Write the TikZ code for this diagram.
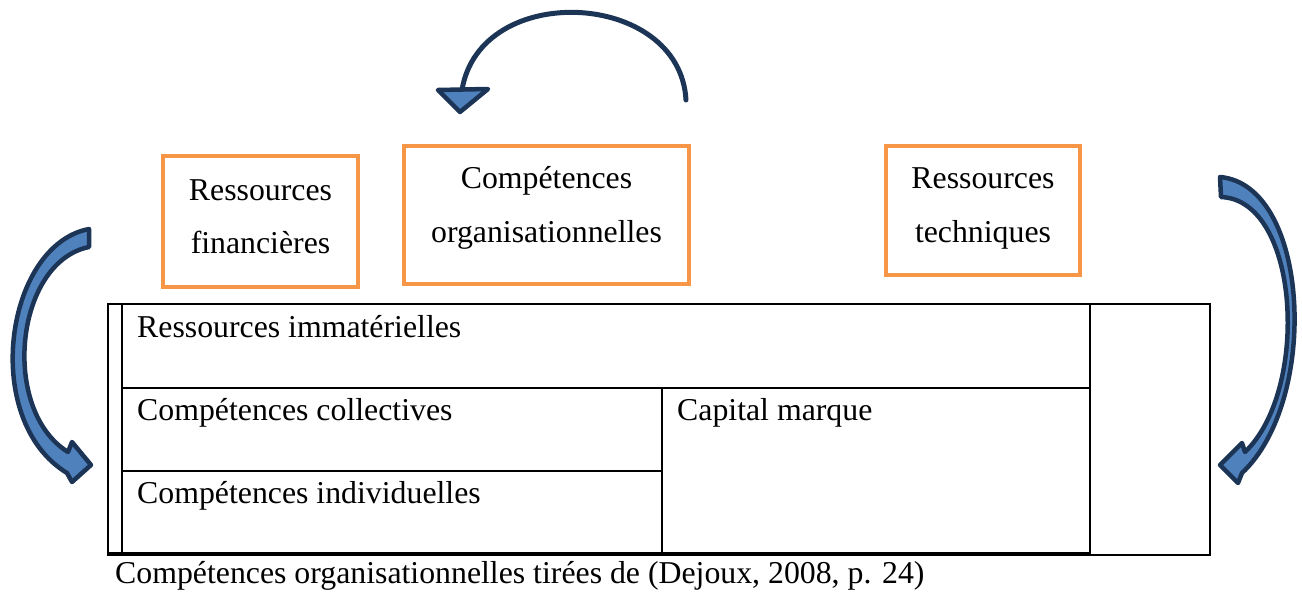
\documentclass[tikz,border=0pt]{standalone}
\usepackage{fontspec}
\setmainfont{Liberation Serif}
\definecolor{boxorange}{HTML}{F79646}
\definecolor{arrowfill}{HTML}{4F81BD}
\definecolor{arrowline}{HTML}{1C3556}
\begin{document}
\begin{tikzpicture}[x=1pt,y=-1pt,
  resbox/.style={draw=boxorange, line width=4pt, inner sep=0pt},
  boxtext/.style={align=center, inner sep=0pt, font=\fontsize{31.8}{54}\selectfont},
  celltext/.style={anchor=base west, inner sep=0pt, font=\fontsize{31.8}{38}\selectfont},
  tableline/.style={line width=2pt},
  blockarrow/.style={fill=arrowfill, draw=arrowline, line width=4.5pt, line join=round},
  thinarrow/.style={draw=arrowline, line width=5pt, line cap=round},
  ]
\useasboundingbox (0,0) rectangle (1302,594);

% orange boxes
\node[resbox, minimum width=195pt, minimum height=131pt] (fin) at (260.5,221.5) {};
\node[boxtext, anchor=base] (fin1) at (260.5,200) {Ressources};
\node[boxtext, anchor=base] (fin2) at (260.5,253) {financières};

\node[resbox, minimum width=285pt, minimum height=138pt] (comp) at (546.5,215) {};
\node[boxtext, anchor=base] (comp1) at (546.5,188) {Compétences};
\node[boxtext, anchor=base] (comp2) at (546.5,242) {organisationnelles};

\node[resbox, minimum width=194pt, minimum height=129pt] (tech) at (983,210.5) {};
\node[boxtext, anchor=base] (tech1) at (983,188) {Ressources};
\node[boxtext, anchor=base] (tech2) at (983,242) {techniques};

% table
\draw[tableline] (108,304) rectangle (1210,555);
\draw[tableline] (122,304) -- (122,555);
\draw[tableline] (1090,304) -- (1090,555);
\draw[tableline] (122,388) -- (1090,388);
\draw[tableline] (122,471) -- (662,471);
\draw[tableline] (662,388) -- (662,555);
\draw[line width=4pt] (108,553.5) -- (1090,553.5);

\node[celltext] (imm) at (137,337) {Ressources immatérielles};
\node[celltext] (coll) at (137,420) {Compétences collectives};
\node[celltext] (indiv) at (137,503) {Compétences individuelles};
\node[celltext] (cap) at (677,420) {Capital marque};
\node[celltext] (caption) at (115,583) {Compétences organisationnelles tirées de (Dejoux, 2008, p. 24)};

% top curved arrow
\draw[thinarrow] (686,100) .. controls (680,-10) and (480,-20) .. (462,90);
\draw[blockarrow] (438,90) -- (488,89) -- (460,112) -- cycle;

% left block arrow
\draw[blockarrow] (89,229) .. controls (5,245) and (-20,420) .. (67,473)
  -- (72,482) -- (91,465) -- (72,442) -- (68,452)
  .. controls (0,410) and (15,262) .. (89,247) -- cycle;

% right block arrow
\draw[blockarrow] (1220,177) .. controls (1310,185) and (1320,400) .. (1242,473)
  -- (1238,483) -- (1220,465) -- (1242,443) -- (1245,452)
  .. controls (1310,390) and (1300,200) .. (1221,197) -- cycle;
\end{tikzpicture}
\end{document}
